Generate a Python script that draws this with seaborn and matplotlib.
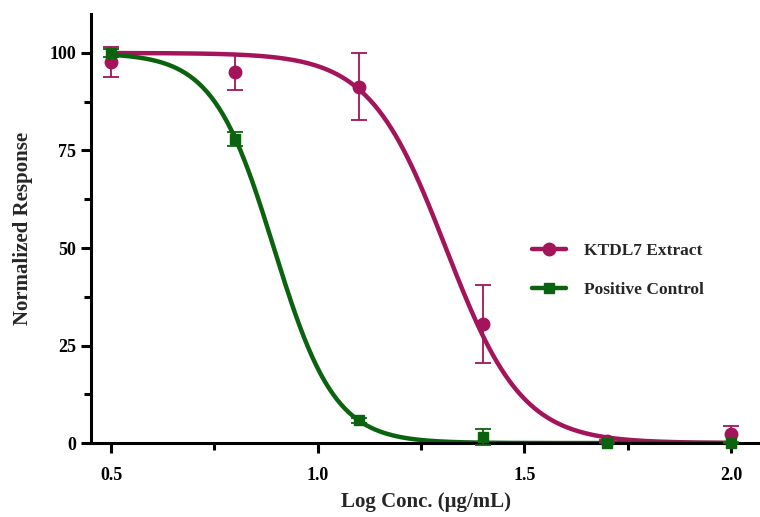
#!/usr/bin/env python3

import numpy as np
import pandas as pd
import matplotlib.pyplot as plt
import seaborn as sns
from matplotlib.lines import Line2D
from matplotlib.ticker import MultipleLocator


OUT_PNG = "out.png"

# measured points (log conc vs normalized response, mean +/- error)
log_conc = [0.5, 0.8, 1.1, 1.4, 1.7, 2.0]
ktdl7_mean = [97.7, 95.1, 91.3, 30.5, 0.5, 2.3]
ktdl7_err = [3.8, 4.7, 8.6, 10.0, 0.3, 2.1]
control_mean = [100.0, 78.0, 5.8, 1.5, 0.0, 0.0]
control_err = [1.0, 1.8, 0.6, 2.0, 0.0, 0.0]

# four-parameter fit (top, bottom, logIC50, hill slope)
ktdl7_fit = [100.0, 0.0, 1.31, 4.7]
control_fit = [100.0, 0.0, 0.894, 5.9]

series_names = ["KTDL7 Extract", "Positive Control"]
series_colors = ["#A3145A", "#0C630F"]
series_markers = ["o", "s"]
marker_sizes = [9, 7]


def hill(x, top, bottom, log_ic50, slope):
    return bottom + (top - bottom) / (1 + 10 ** ((x - log_ic50) * slope))


def main():
    sns.set_theme(style="ticks")
    plt.rcParams["font.family"] = ["Liberation Serif", "DejaVu Serif"]
    plt.rcParams["font.weight"] = "bold"

    fig = plt.figure(figsize=(7.6, 5.17), dpi=100)
    ax = fig.add_axes([0.12, 0.143, 0.88, 0.83])

    # fitted curves
    x_fit = np.linspace(0.5, 2.0, 300)
    curves = pd.DataFrame({
        "x": np.concatenate([x_fit, x_fit]),
        "y": np.concatenate([hill(x_fit, *ktdl7_fit), hill(x_fit, *control_fit)]),
        "series": [series_names[0]] * len(x_fit) + [series_names[1]] * len(x_fit),
    })
    sns.lineplot(data=curves, x="x", y="y", hue="series",
                 palette=dict(zip(series_names, series_colors)),
                 linewidth=3.2, legend=False, ax=ax, zorder=2)

    # data points with error bars
    data = [(ktdl7_mean, ktdl7_err), (control_mean, control_err)]
    for (mean, err), color, marker, ms in zip(data, series_colors, series_markers, marker_sizes):
        ax.errorbar(log_conc, mean, yerr=err, fmt=marker, color=color,
                    markersize=ms, ecolor=color, elinewidth=1.3, capsize=6,
                    capthick=1.3, zorder=3, clip_on=False)

    ax.set_xlim(0.452, 2.07)
    ax.set_ylim(0, 110)
    ax.xaxis.set_major_locator(MultipleLocator(0.5))
    ax.xaxis.set_minor_locator(MultipleLocator(0.25))
    ax.set_yticks([0, 25, 50, 75, 100])
    ax.yaxis.set_minor_locator(MultipleLocator(12.5))

    sns.despine(ax=ax)
    for side in ["left", "bottom"]:
        ax.spines[side].set_linewidth(2.2)
        ax.spines[side].set_color("black")

    ax.tick_params(axis="both", which="major", length=7, width=2.2,
                   labelsize=13, colors="black")
    ax.tick_params(axis="both", which="minor", length=5, width=2.2, color="black")
    ax.tick_params(axis="x", which="major", pad=10)
    ax.tick_params(axis="y", which="major", pad=4)
    for lab in ax.get_xticklabels() + ax.get_yticklabels():
        lab.set_fontweight("bold")

    ax.set_xlabel("Log Conc. (\u03bcg/mL)", fontsize=15, fontweight="bold", labelpad=6)
    ax.set_ylabel("Normalized Response", fontsize=15, fontweight="bold", labelpad=12)

    handles = [
        Line2D([0], [0], color=c, marker=m, markersize=s, linewidth=3.2)
        for c, m, s in zip(series_colors, series_markers, marker_sizes)
    ]
    ax.legend(handles, series_names, loc="center left", bbox_to_anchor=(0.635, 0.402),
              frameon=False, handlelength=2.0, handletextpad=1.0, labelspacing=1.3,
              prop={"family": "Liberation Serif", "weight": "bold", "size": 12.5})

    fig.savefig(OUT_PNG, dpi=100)
    plt.close(fig)


if __name__ == "__main__":
    main()
